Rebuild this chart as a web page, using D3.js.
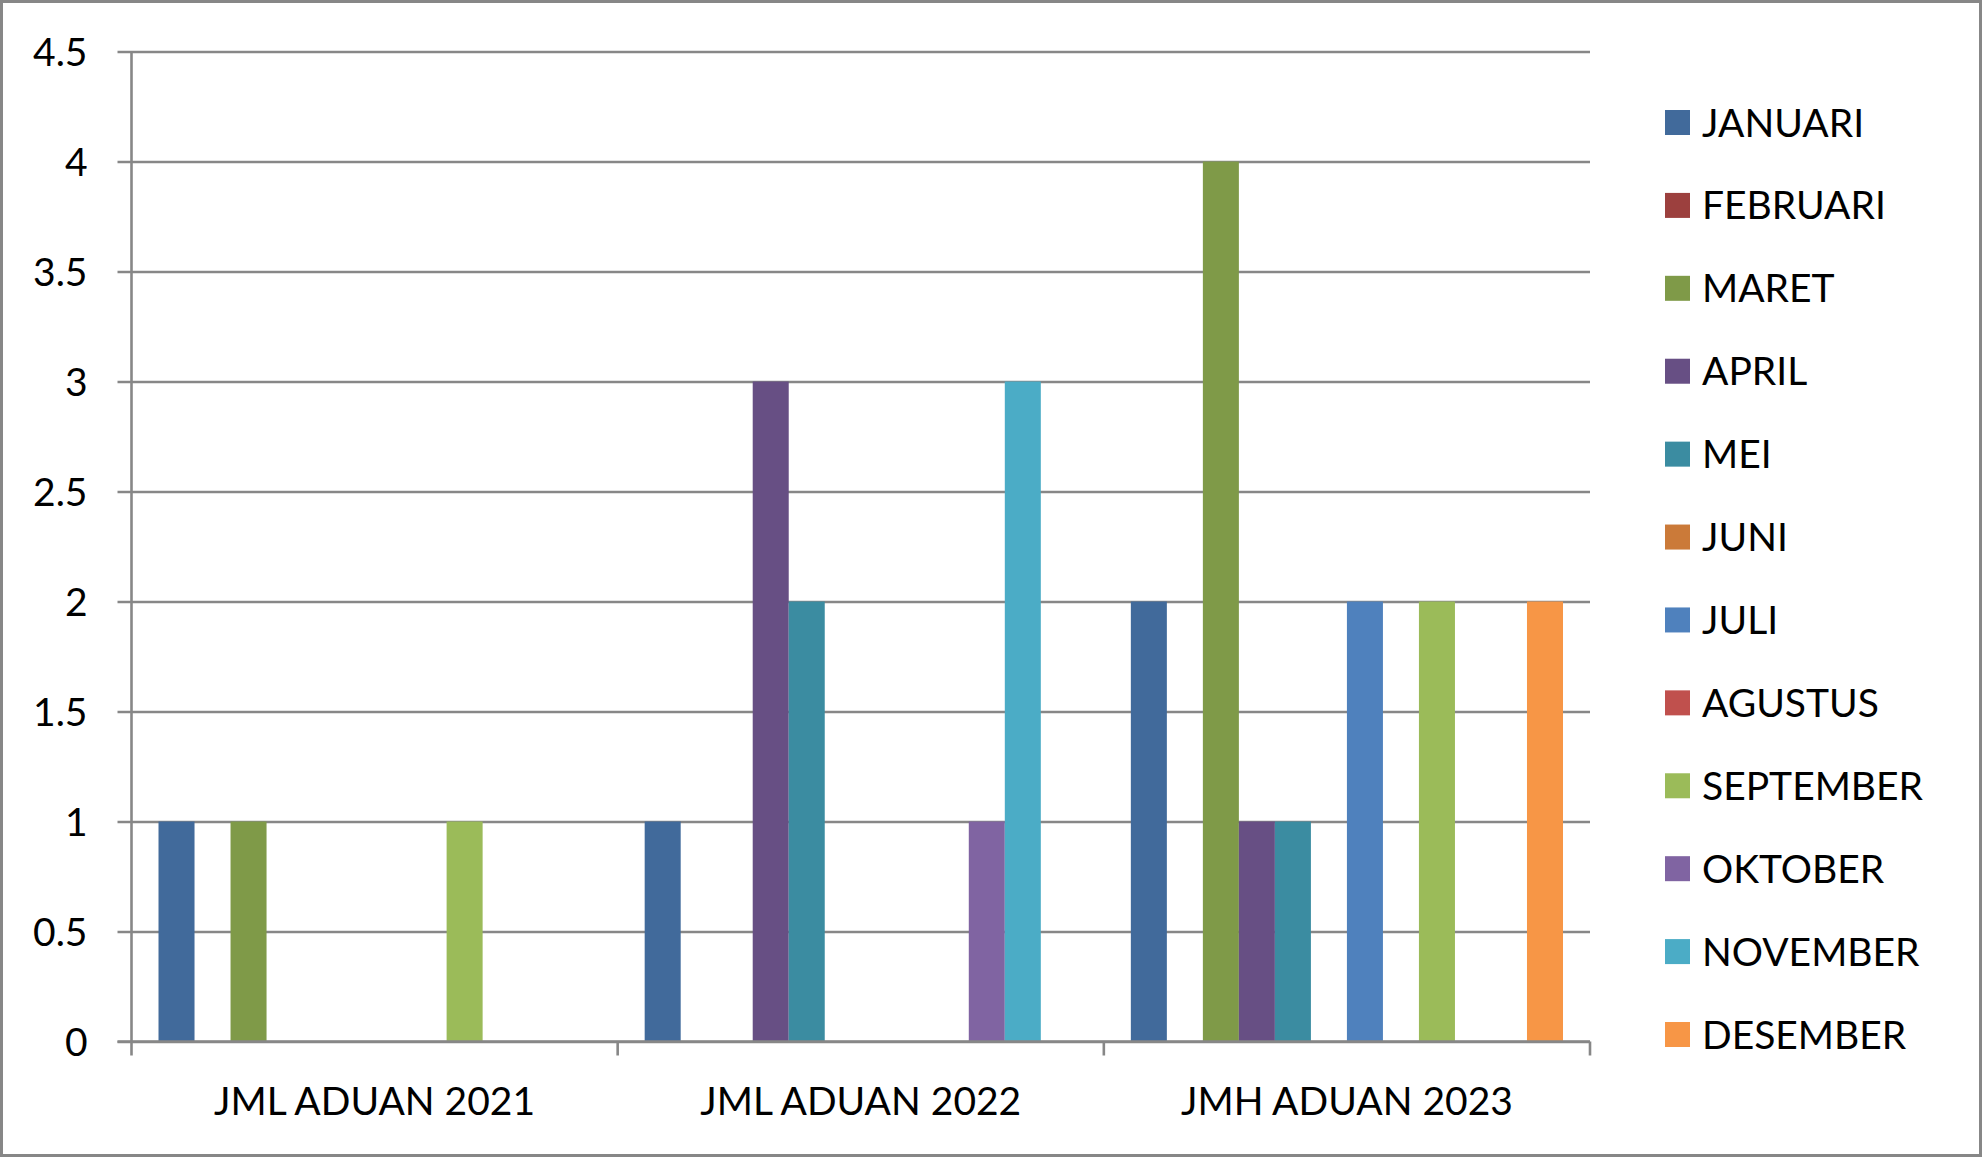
<!DOCTYPE html>
<html>
<head>
<meta charset="utf-8">
<script src="https://cdn.jsdelivr.net/npm/d3@7"></script>
<style>
  html, body { margin: 0; padding: 0; background: #fff; }
  svg { display: block; }
  text { font-family: Lato, "Open Sans", sans-serif; fill: #000; }
</style>
</head>
<body>
<svg id="chart" width="1982" height="1157"></svg>
<script>
// ---- data ----
const categories = ["JML ADUAN 2021", "JML ADUAN 2022", "JMH ADUAN 2023"];
const months = ["JANUARI", "FEBRUARI", "MARET", "APRIL", "MEI", "JUNI",
                "JULI", "AGUSTUS", "SEPTEMBER", "OKTOBER", "NOVEMBER", "DESEMBER"];
// values per month, in category order [2021, 2022, 2023]
const JANUARI   = [1, 1, 2];
const FEBRUARI  = [0, 0, 0];
const MARET     = [1, 0, 4];
const APRIL     = [0, 3, 1];
const MEI       = [0, 2, 1];
const JUNI      = [0, 0, 0];
const JULI      = [0, 0, 2];
const AGUSTUS   = [0, 0, 0];
const SEPTEMBER = [1, 0, 2];
const OKTOBER   = [0, 1, 0];
const NOVEMBER  = [0, 3, 0];
const DESEMBER  = [0, 0, 2];
const seriesValues = [JANUARI, FEBRUARI, MARET, APRIL, MEI, JUNI,
                      JULI, AGUSTUS, SEPTEMBER, OKTOBER, NOVEMBER, DESEMBER];
const colors = ["#416A9B", "#9C403E", "#7F9A48", "#674F84", "#3B8CA1", "#CB7A39",
                "#4F81BD", "#C0504D", "#9BBB59", "#8064A2", "#4BACC6", "#F79646"];
const yTicks = [0, 0.5, 1, 1.5, 2, 2.5, 3, 3.5, 4, 4.5];

// ---- layout ----
const svg = d3.select("#chart");
const W = 1982, H = 1157;
const plotLeft = 131.5, plotRight = 1590, plotTop = 51.5, plotBottom = 1041.5;
const fontSize = 39;
const gridColor = "#878787";

svg.append("rect").attr("x", 1.5).attr("y", 1.5).attr("width", W - 3).attr("height", H - 3)
  .attr("fill", "#fff").attr("stroke", gridColor).attr("stroke-width", 3);

const y = d3.scaleLinear().domain([0, 4.5]).range([plotBottom, plotTop]);
const x0 = d3.scaleBand().domain(categories).range([plotLeft, plotRight]).padding(0);
const x1 = d3.scaleBand().domain(months).range([0, x0.bandwidth()])
  .paddingInner(0).paddingOuter(0.75);
const color = d3.scaleOrdinal().domain(months).range(colors);

// gridlines + y labels
const yAxis = d3.axisLeft(y).tickValues(yTicks).tickFormat(d => String(d))
  .tickSize(-(plotRight - (plotLeft - 14))).tickPadding(30);
const gy = svg.append("g").attr("transform", `translate(${plotLeft - 14},0)`).call(yAxis);
gy.select(".domain").remove();
gy.selectAll(".tick line").attr("stroke", gridColor).attr("stroke-width", 2.6);
gy.selectAll(".tick text").attr("font-size", fontSize).attr("dy", "0.36em");

// bars
const rows = [];
categories.forEach((c, ci) => {
  months.forEach((m, mi) => {
    rows.push({ cat: c, month: m, value: seriesValues[mi][ci] });
  });
});
svg.append("g").selectAll("rect").data(rows.filter(d => d.value > 0)).join("rect")
  .attr("x", d => x0(d.cat) + x1(d.month))
  .attr("width", x1.bandwidth())
  .attr("y", d => y(d.value))
  .attr("height", d => y(0) - y(d.value))
  .attr("fill", d => color(d.month));

// y axis line
svg.append("line").attr("x1", plotLeft).attr("x2", plotLeft).attr("y1", plotTop).attr("y2", plotBottom)
  .attr("stroke", gridColor).attr("stroke-width", 2.6);

// x axis line
svg.append("line").attr("x1", plotLeft - 14).attr("x2", plotRight).attr("y1", plotBottom).attr("y2", plotBottom)
  .attr("stroke", gridColor).attr("stroke-width", 2.6);

// category boundary ticks
const bounds = categories.map(c => x0(c)).concat([x0(categories[categories.length - 1]) + x0.bandwidth()]);
svg.append("g").selectAll("line").data(bounds).join("line")
  .attr("x1", d => d).attr("x2", d => d)
  .attr("y1", plotBottom).attr("y2", plotBottom + 14)
  .attr("stroke", gridColor).attr("stroke-width", 2.6);

// category labels
const xAxis = d3.axisBottom(x0).tickSize(0).tickPadding(0);
const gx = svg.append("g").attr("transform", `translate(0,${plotBottom})`).call(xAxis);
gx.select(".domain").remove();
gx.selectAll(".tick text").attr("font-size", fontSize).attr("y", 73).attr("dy", 0);

// legend
const legend = svg.append("g");
const legY = d3.scalePoint().domain(months).range([122.5, 1034.5]);
const items = legend.selectAll("g").data(months).join("g")
  .attr("transform", d => `translate(1665,${legY(d)})`);
items.append("rect").attr("x", 0).attr("y", -12.5).attr("width", 25).attr("height", 25)
  .attr("fill", d => color(d));
items.append("text").attr("x", 37).attr("y", 0).attr("dy", "0.36em")
  .attr("font-size", fontSize).text(d => d);
</script>
</body>
</html>
